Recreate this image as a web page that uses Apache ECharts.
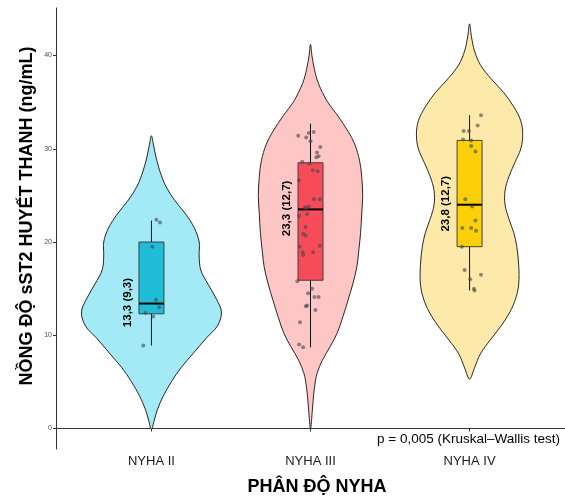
<!DOCTYPE html>
<html><head><meta charset="utf-8">
<script src="https://cdn.jsdelivr.net/npm/echarts@6/dist/echarts.min.js"></script>
<style>html,body{margin:0;padding:0;background:#fff}#c{width:565px;height:496px}</style>
</head><body><div id="c"></div>
<script>
// ---- data ----
const categories = ['NYHA II', 'NYHA III', 'NYHA IV'];
const yTicks = [0, 10, 20, 30, 40];

// violin density profiles: [value, half-width in category units], top -> bottom
const violinII = [[31.4,0],[30.5,0.012],[29,0.03],[27.5,0.055],[26,0.09],[24.5,0.145],[23,0.215],[21.5,0.27],[20,0.30],[18.5,0.30],[17,0.31],[15.5,0.355],[14,0.405],[12.5,0.44],[11,0.415],[9.7,0.345],[8,0.26],[6.5,0.185],[5,0.125],[3.5,0.075],[2,0.037],[0.9,0.018],[-0.1,0]];
const violinIII = [[41.2,0],[40,0.009],[38.5,0.025],[37,0.05],[35.1,0.105],[33.5,0.173],[31.9,0.235],[30.5,0.278],[28.7,0.309],[27,0.322],[25,0.328],[23,0.322],[21,0.315],[19,0.303],[17.3,0.291],[15.5,0.266],[13.7,0.235],[12,0.204],[10.2,0.167],[8.8,0.124],[7.3,0.074],[6,0.043],[5.1,0.031],[3.5,0.019],[2,0.012],[0,0]];
const violinIV = [[43.4,0],[42,0.012],[40.5,0.031],[39,0.068],[37.5,0.136],[36,0.216],[34.5,0.278],[33,0.322],[31.5,0.334],[30,0.322],[28.5,0.284],[27,0.247],[25.5,0.223],[24,0.223],[22.5,0.247],[21,0.278],[19.5,0.297],[17.5,0.309],[15.5,0.309],[14,0.291],[12.5,0.254],[11,0.198],[9.5,0.13],[8,0.068],[6.5,0.031],[5.3,0]];

// box stats: [lower whisker, Q1, median, Q3, upper whisker]
const boxII = [8.9, 12.3, 13.4, 20.0, 22.3];
const boxIII = [8.7, 15.9, 23.5, 28.5, 32.7];
const boxIV = [14.8, 19.5, 24.0, 30.9, 33.6];
const boxLabels = ['13,3 (9,3)', '23,3 (12,7)', '23,8 (12,7)'];

// jittered observations: [jitter offset in category units, value]
const pointsII = [[0.031,22.4],[0.054,22.1],[0.006,19.5],[0.029,13.8],[0.049,13.0],[-0.037,12.4],[0.011,12.0],[-0.051,8.9]];
const pointsIII = [[-0.077,31.4],[-0.027,31.2],[-0.011,31.7],[0.02,31.8],[0,30.8],[0.062,30.2],[0.041,29.6],[0.037,29.1],[0.051,29.2],[-0.052,28.6],[-0.006,28.4],[0.014,27.7],[0.045,27.6],[-0.072,26.6],[0.02,24.6],[0.058,24.6],[-0.035,23.7],[-0.027,23.6],[-0.011,23.8],[-0.021,23.0],[-0.072,22.8],[-0.031,21.6],[-0.046,20.9],[-0.031,20.7],[0.058,19.6],[-0.068,19.5],[-0.049,18.9],[0.016,18.9],[-0.046,18.6],[-0.083,15.8],[0.01,15.0],[-0.015,14.5],[0.025,14.1],[0.051,14.1],[-0.021,13.2],[-0.029,13.1],[0.031,12.7],[-0.066,11.4],[-0.072,9.0],[-0.046,8.7]];
const pointsIV = [[0.072,33.6],[0.051,32.5],[-0.037,31.9],[-0.004,31.9],[-0.041,31.0],[0.01,30.9],[0.01,30.3],[0.037,29.7],[-0.027,24.6],[0.016,23.8],[0.037,22.3],[-0.046,21.5],[0.01,21.5],[0.041,21.2],[-0.048,19.5],[-0.031,17.0],[0.072,16.5],[0.004,16.0],[0.027,15.0],[0.031,14.8]];

const pValueText = 'p = 0,005 (Kruskal–Wallis test)';

// ---- styling ----
const violinColors = ['#a3eaf6', '#ffc6c6', '#fde9aa'];
const boxColors = ['#1fbdd8', '#f84b5a', '#fbcf0a'];
const FONT = '"Liberation Sans", Arial, Helvetica, sans-serif';
const BOX_HALF_PX = 12.5;

const violins = [violinII, violinIII, violinIV];
const boxes = [boxII, boxIII, boxIV];
const pointSets = [pointsII, pointsIII, pointsIV];

const chart = echarts.init(document.getElementById('c'), null, {renderer: 'canvas'});

const scatterData = [];
pointSets.forEach((pts, i) => pts.forEach(p => scatterData.push([i + 1 + p[0], p[1]])));

const option = {
  animation: false,
  backgroundColor: '#fff',
  grid: {left: 56, right: -9, top: 8, bottom: 47, containLabel: false},
  xAxis: {
    type: 'value', min: 0.4, max: 3.6,
    splitLine: {show: false},
    axisLine: {show: true, lineStyle: {color: '#333', width: 1}},
    axisTick: {show: true, length: 3, lineStyle: {color: '#333'}, customValues: [1, 2, 3]},
    axisLabel: {show: true, customValues: [1, 2, 3], margin: 6, fontSize: 13, color: '#1a1a1a', fontFamily: FONT,
      formatter: v => categories[Math.round(v) - 1] || ''}
  },
  yAxis: {
    type: 'value', min: -2.2, max: 45.1,
    splitLine: {show: false},
    axisLine: {show: true, lineStyle: {color: '#333', width: 1}},
    axisTick: {show: true, length: 3, lineStyle: {color: '#333'}, customValues: yTicks},
    axisLabel: {show: true, customValues: yTicks, margin: 4, fontSize: 7, color: '#4d4d4d', fontFamily: FONT}
  },
  graphic: [
    {type: 'text', x: 27, y: 216, rotation: Math.PI / 2, z: 100,
     style: {text: 'NỒNG ĐỘ sST2 HUYẾT THANH (ng/mL)', fontSize: 18, fontWeight: 'bold', fontFamily: FONT, fill: '#000', textAlign: 'center', textVerticalAlign: 'middle'}},
    {type: 'text', x: 317, y: 487, z: 100,
     style: {text: 'PHÂN ĐỘ NYHA', fontSize: 18, fontWeight: 'bold', fontFamily: FONT, fill: '#000', textAlign: 'center', textVerticalAlign: 'middle'}},
    {type: 'text', x: 560, y: 439, z: 100,
     style: {text: pValueText, fontSize: 13.5, fontFamily: FONT, fill: '#000', textAlign: 'right', textVerticalAlign: 'middle'}}
  ],
  series: [
    {
      type: 'custom', name: 'violin', z: 1, silent: true,
      data: categories.map((c, i) => [i + 1, 0]),
      renderItem: (params, api) => {
        const i = params.dataIndex, c = i + 1, prof = violins[i];
        const right = prof.map(([v, w]) => api.coord([c + w, v]));
        const left = prof.slice().reverse().filter(([v, w]) => w > 0).map(([v, w]) => api.coord([c - w, v]));
        return {type: 'polygon', shape: {points: right.concat(left), smooth: 0.35},
          style: {fill: violinColors[i], stroke: '#111', lineWidth: 0.9}};
      }
    },
    {
      type: 'custom', name: 'box', z: 2, silent: true,
      data: boxes.map((b, i) => [i + 1].concat(b)),
      renderItem: (params, api) => {
        const i = params.dataIndex, c = i + 1, b = boxes[i];
        const pLo = api.coord([c, b[0]]), pQ1 = api.coord([c, b[1]]), pMed = api.coord([c, b[2]]),
              pQ3 = api.coord([c, b[3]]), pHi = api.coord([c, b[4]]);
        const cx = pMed[0];
        return {type: 'group', children: [
          {type: 'line', shape: {x1: cx, y1: pHi[1], x2: cx, y2: pLo[1]}, style: {stroke: '#111', lineWidth: 1}},
          {type: 'rect', shape: {x: cx - BOX_HALF_PX, y: pQ3[1], width: 2 * BOX_HALF_PX, height: pQ1[1] - pQ3[1]},
            style: {fill: boxColors[i], stroke: '#333', lineWidth: 0.9}},
          {type: 'line', shape: {x1: cx - BOX_HALF_PX, y1: pMed[1], x2: cx + BOX_HALF_PX, y2: pMed[1]}, style: {stroke: '#000', lineWidth: 2}},
          {type: 'text', x: cx - BOX_HALF_PX - 11, y: pMed[1] - 1, rotation: Math.PI / 2,
            style: {text: boxLabels[i], fontSize: 11.5, fontWeight: 'bold', fontFamily: FONT, fill: '#000', textAlign: 'center', textVerticalAlign: 'middle'}}
        ]};
      }
    },
    {
      type: 'scatter', name: 'points', z: 3, silent: true,
      data: scatterData, symbol: 'circle', symbolSize: 4,
      itemStyle: {color: 'rgba(70,70,70,0.75)', borderWidth: 0}
    }
  ]
};
chart.setOption(option);
</script>
</body></html>
